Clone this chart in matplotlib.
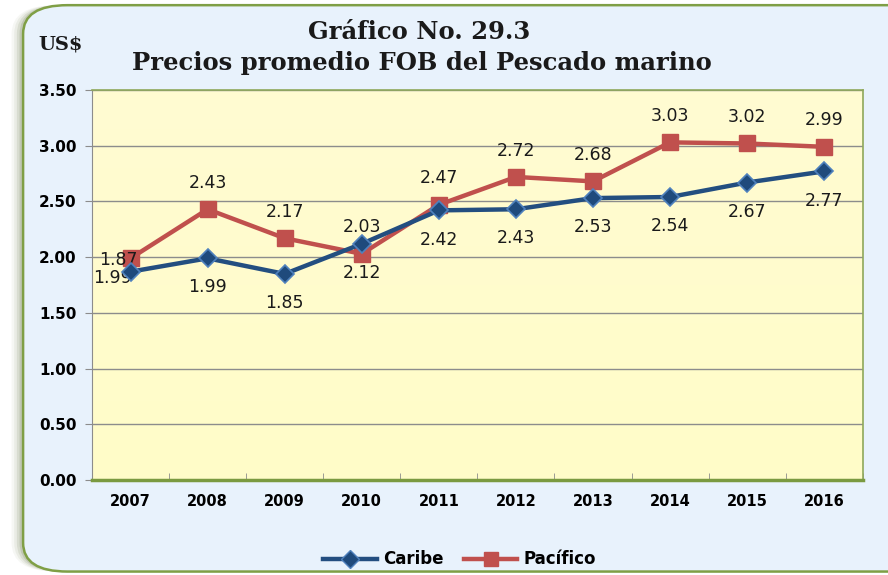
import numpy as np
import matplotlib.pyplot as plt
from matplotlib.patches import FancyBboxPatch
from matplotlib.lines import Line2D

years = ['2007', '2008', '2009', '2010', '2011', '2012', '2013', '2014', '2015', '2016']
caribe = [1.87, 1.99, 1.85, 2.12, 2.42, 2.43, 2.53, 2.54, 2.67, 2.77]
pacifico = [1.99, 2.43, 2.17, 2.03, 2.47, 2.72, 2.68, 3.03, 3.02, 2.99]
yticks = [0.0, 0.5, 1.0, 1.5, 2.0, 2.5, 3.0, 3.5]

fig = plt.figure(figsize=(8.88, 5.75), dpi=100)
fig.patch.set_facecolor('white')

# rounded frame with a soft shadow on the left
for i, a in enumerate([0.05, 0.08, 0.12, 0.18]):
    off = (4 - i) * 0.003
    fig.patches.append(FancyBboxPatch((0.025 - off, 0.006), 1.05, 0.985,
                                      boxstyle='round,pad=0,rounding_size=0.05',
                                      transform=fig.transFigure, facecolor='#5d6b3a',
                                      edgecolor='none', alpha=a, zorder=0))
fig.patches.append(FancyBboxPatch((0.026, 0.006), 1.05, 0.985,
                                  boxstyle='round,pad=0,rounding_size=0.05',
                                  transform=fig.transFigure, facecolor='#e8f2fc',
                                  edgecolor='#7f9f45', linewidth=1.8, zorder=1))

ax = fig.add_axes([0.1036, 0.165, 0.868, 0.6785])
ax.set_zorder(2)

# light yellow gradient in the plot area
grad = np.linspace(0, 1, 256).reshape(-1, 1)
ax.imshow(grad, extent=(-0.5, 9.5, 0, 3.5), aspect='auto', origin='lower',
          cmap=plt.matplotlib.colors.LinearSegmentedColormap.from_list('y', ['#fffdc8', '#fffbd2']),
          zorder=0)

x = np.arange(len(years))
ax.plot(x, caribe, color='#234e80', lw=3.2, marker='D', ms=9,
        mfc='#1f4a7c', mec='#4f81bd', mew=1.2, zorder=4)
ax.plot(x, pacifico, color='#c0504d', lw=3.2, marker='s', ms=11,
        mfc='#c0504d', mec='#c0504d', zorder=3)

ax.set_xlim(-0.5, 9.5)
ax.set_ylim(0, 3.5)
ax.set_yticks(yticks)
ax.set_yticklabels(['%.2f' % v for v in yticks], fontweight='bold', fontsize=11)
ax.set_xticks(x)
ax.set_xticklabels(years, fontweight='bold', fontsize=10.5)
ax.set_xticks(np.arange(-0.5, 10, 1), minor=True)
ax.tick_params(axis='x', which='major', length=0, pad=10)
ax.tick_params(axis='x', which='minor', length=5, color='#8c8c8c', direction='in')
ax.tick_params(axis='y', length=5, color='#8c8c8c', pad=6)
ax.grid(axis='y', color='#8c8c8c', lw=1)
ax.set_axisbelow(True)
for side in ['top', 'right']:
    ax.spines[side].set_color('#8fa85a')
    ax.spines[side].set_linewidth(1.2)
ax.spines['left'].set_color('#8c8c8c')
ax.spines['bottom'].set_color('#7a9a40')
ax.spines['bottom'].set_linewidth(2.5)

# value labels: Pacifico above, Caribe below (2007 pair nudged left)
for i, v in enumerate(pacifico):
    dx, dy = (0, 19) if i else (-13, -14)
    ax.annotate('%.2f' % v, (i, v), xytext=(dx, dy), textcoords='offset points',
                ha='center', va='center', fontsize=12.5, color='#1a1a1a')
for i, v in enumerate(caribe):
    dx, dy = (0, -21) if i else (-9, 8.5)
    ax.annotate('%.2f' % v, (i, v), xytext=(dx, dy), textcoords='offset points',
                ha='center', va='center', fontsize=12.5, color='#1a1a1a')

fig.text(0.472, 0.945, 'Gráfico No. 29.3', ha='center', va='center',
         fontsize=17.5, fontweight='bold', family='DejaVu Serif', color='#1a1a1a')
fig.text(0.475, 0.89, 'Precios promedio FOB del Pescado marino', ha='center', va='center',
         fontsize=17.5, fontweight='bold', family='DejaVu Serif', color='#1a1a1a')
fig.text(0.068, 0.922, 'US$', ha='center', va='center',
         fontsize=14, fontweight='bold', family='DejaVu Serif', color='#1a1a1a')

handles = [Line2D([], [], color='#234e80', lw=3.2, marker='D', ms=9, mfc='#1f4a7c', mec='#4f81bd'),
           Line2D([], [], color='#c0504d', lw=3.2, marker='s', ms=10, mfc='#c0504d')]
fig.legend(handles, ['Caribe', 'Pacífico'], loc='center', bbox_to_anchor=(0.518, 0.027),
           ncol=2, frameon=False, prop={'weight': 'bold', 'size': 12},
           handlelength=3.2, columnspacing=1.2, handletextpad=0.4)

fig.savefig('out.png', dpi=100)
